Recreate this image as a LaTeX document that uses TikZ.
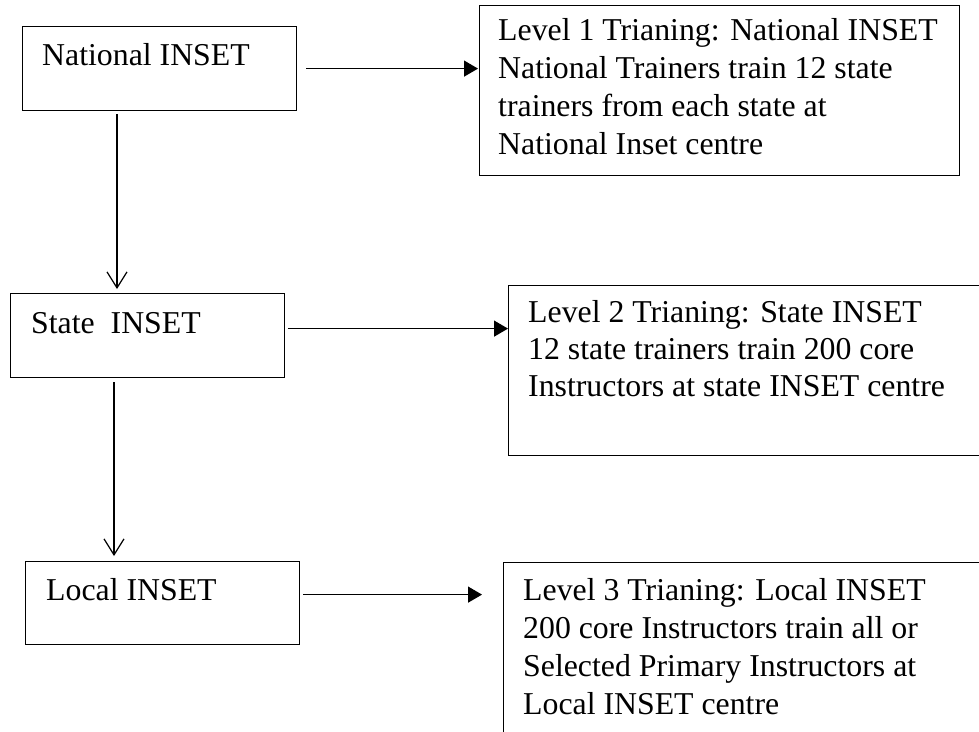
\documentclass[tikz,border=0pt]{standalone}
\usepackage{fontspec}
\setmainfont{Liberation Serif}
\usetikzlibrary{arrows.meta}
\tikzset{
  box/.style={draw, line width=1.2pt, inner sep=0pt, anchor=north west},
  txt/.style={anchor=base west, inner sep=0pt, font=\fontsize{31.8}{38}\selectfont},
  harrow/.style={line width=1.3pt, -{Triangle[length=14pt,width=16pt]}},
  varrow/.style={line width=1.2pt, -{Straight Barb[length=16pt,width=20pt,line width=1.2pt]}}
}
\begin{document}
\begin{tikzpicture}[x=1pt,y=-1pt]
\clip (0,0) rectangle (979,731);
\fill[white] (0,0) rectangle (979,731);
% left boxes
\node[box, minimum width=274pt, minimum height=84pt] (nat) at (22,26) {};
\node[box, minimum width=274pt, minimum height=84pt] (state) at (10,293) {};
\node[box, minimum width=274pt, minimum height=83pt] (local) at (25,561) {};
% right boxes
\node[box, minimum width=480pt, minimum height=170pt] (l1) at (479,5) {};
\node[box, minimum width=520pt, minimum height=170pt] (l2) at (508,285) {};
\node[box, minimum width=520pt, minimum height=220pt] (l3) at (503,562) {};
% texts
\node[txt] (natt) at (42,65) {National INSET};
\node[txt] (statet) at (31,333) {State\ \ INSET};
\node[txt] (localt) at (46,600) {Local INSET};
\node[txt] (l1t) at (498,40) {\begin{tabular}[t]{@{}l@{}}Level 1 Trianing: National INSET\\National Trainers train 12 state\\trainers from each state at\\National Inset centre\end{tabular}};
\node[txt, font=\fontsize{31.8}{37}\selectfont] (l2t) at (528,322) {\begin{tabular}[t]{@{}l@{}}Level 2 Trianing: State INSET\\12 state trainers train 200 core\\Instructors at state INSET centre\end{tabular}};
\node[txt] (l3t) at (523,600) {\begin{tabular}[t]{@{}l@{}}Level 3 Trianing: Local INSET\\200 core Instructors train all or\\Selected Primary Instructors at\\Local INSET centre\end{tabular}};
% horizontal arrows
\draw[harrow] ([xshift=9pt]nat.east) -- ([xshift=-1pt]nat.east -| l1.west);
\draw[harrow] ([xshift=3pt,yshift=7pt]state.east) -- ([yshift=7pt]state.east -| l2.west);
\draw[harrow] ([xshift=3pt,yshift=8.5pt]local.east) -- ([xshift=-21pt,yshift=8.5pt]local.east -| l3.west);
% vertical arrows
\draw[varrow] ([xshift=95pt,yshift=-3pt]nat.south west) -- ([xshift=107pt,yshift=4pt]state.north west);
\draw[varrow] ([xshift=104pt,yshift=-4pt]state.south west) -- ([xshift=89pt,yshift=5pt]local.north west);
\end{tikzpicture}
\end{document}
